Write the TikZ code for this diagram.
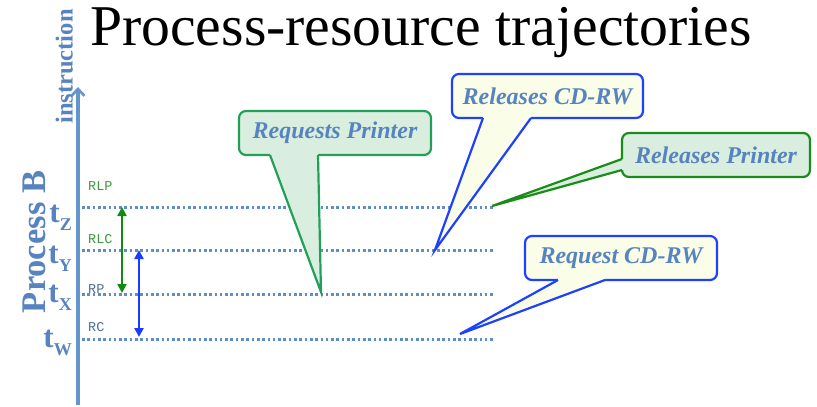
\documentclass[tikz,border=0pt]{standalone}
\usepackage{fontspec}
\setmainfont{Liberation Serif}
\newfontfamily\codefont{Liberation Mono}
\usetikzlibrary{arrows.meta}

\definecolor{axisblue}{HTML}{6396CC}
\definecolor{labelblue}{HTML}{5783BF}
\definecolor{dotblue}{HTML}{5E8EC6}
\definecolor{codegreen}{HTML}{3C9A3C}
\definecolor{codegray}{HTML}{4F6D90}
\definecolor{spangreen}{HTML}{108A10}
\definecolor{spanblue}{HTML}{1A3CFF}
\definecolor{tealborder}{HTML}{22A05A}
\definecolor{greenborder}{HTML}{1A8C1A}
\definecolor{blueborder}{HTML}{1E40FF}
\definecolor{greenfill}{HTML}{DAEEDF}
\definecolor{yellowfill}{HTML}{FAFDE8}

\tikzset{
  axisline/.style={line width=3.4pt, draw=axisblue, -{Straight Barb[length=7pt,width=13pt,line width=2.6pt]}},
  timeline/.style={line width=3pt, draw=dotblue, dash pattern=on 2.6pt off 2.7pt},
  tlabel/.style={anchor=base east, inner sep=0pt, text=labelblue, font=\bfseries\fontsize{31}{31}\selectfont},
  codelabel/.style={anchor=base west, inner sep=0pt, font=\codefont\fontsize{13.5}{14}\selectfont},
  span/.style={line width=2.8pt, {Triangle[length=9pt,width=9pt]}-{Triangle[length=9pt,width=9pt]}},
  callout/.style={rounded corners=7pt, line width=2.2pt, inner sep=0pt,
    text=labelblue, font=\bfseries\itshape\fontsize{24}{24}\selectfont},
  pointer/.style={line width=2.2pt, line join=miter},
  sidebar/.style={text=labelblue, rotate=90, anchor=base, inner sep=0pt},
}

\newcommand\tsub[1]{t\raisebox{-8pt}{\fontsize{18}{18}\selectfont #1}}

\begin{document}
\begin{tikzpicture}[x=1pt,y=-1pt]
\useasboundingbox (0,0) rectangle (817,407);

% heading
\node[anchor=base west, inner sep=0pt, font=\fontsize{57.7}{60}\selectfont] (title) at (90,45) {Process-resource trajectories};

% vertical axis of process B
\coordinate (axbot) at (78,405);
\coordinate (axtop) at (78,87);
\draw[axisline] (axbot) -- (axtop);
\node[sidebar, font=\bfseries\fontsize{24.5}{24}\selectfont] (instr) at (72.5,66.5) {instruction};
\node[sidebar, font=\bfseries\fontsize{34.5}{34}\selectfont] (procb) at (45.5,242) {Process B};

% time marks
\node[tlabel] (tz) at (72,222) {\tsub{Z}};
\node[tlabel] (ty) at (72,263) {\tsub{Y}};
\node[tlabel] (tx) at (72,302) {\tsub{X}};
\node[tlabel] (tw) at (72,347) {\tsub{W}};

\coordinate (zs) at (82,207);  \coordinate (ze) at (495,207);
\coordinate (ys) at (82,250);  \coordinate (ye) at (495,250);
\coordinate (xs) at (82,294);  \coordinate (xe) at (495,294);
\coordinate (ws) at (82,339);  \coordinate (we) at (495,339);
\draw[timeline] (zs) -- (ze);
\draw[timeline] (ys) -- (ye);
\draw[timeline] (xs) -- (xe);
\draw[timeline] (ws) -- (we);

\node[codelabel, text=codegreen] (rlp) at (88,190) {RLP};
\node[codelabel, text=codegreen] (rlc) at (88,243) {RLC};
\node[codelabel, text=codegray]  (rpl) at (88,293) {RP};
\node[codelabel, text=codegray]  (rcl) at (88,331) {RC};

% holding intervals
\coordinate (g1) at (122,207); \coordinate (g2) at (122,293);
\coordinate (b1) at (139,250); \coordinate (b2) at (139,337);
\draw[span, draw=spangreen, fill=spangreen] (g1) -- (g2);
\draw[span, draw=spanblue, fill=spanblue] (b1) -- (b2);

% callout: Requests Printer
\node[callout, draw=tealborder, fill=greenfill, minimum width=192pt, minimum height=44pt] (reqp) at (335,133) {Requests Printer};
\coordinate (reqpA) at (270,155); \coordinate (reqpB) at (318,155); \coordinate (reqpT) at (321,292);
\fill[greenfill] (reqpA) -- (reqpT) -- (reqpB) -- (318,150) -- (270,150) -- cycle;
\draw[pointer, draw=tealborder] (reqpA) -- (reqpT) -- (reqpB);

% callout: Releases CD-RW
\node[callout, draw=blueborder, fill=yellowfill, minimum width=191pt, minimum height=44pt] (relc) at (547.5,96) {Releases CD-RW};
\coordinate (relcA) at (483,118); \coordinate (relcB) at (531,118); \coordinate (relcT) at (435,250);
\fill[yellowfill] (relcA) -- (relcT) -- (relcB) -- (531,113) -- (483,113) -- cycle;
\draw[pointer, draw=blueborder] (relcA) -- (relcT) -- (relcB);

% callout: Releases Printer
\node[callout, draw=greenborder, fill=greenfill, minimum width=188pt, minimum height=44pt] (relp) at (716,155) {Releases Printer};
\coordinate (relpA) at (622,159); \coordinate (relpB) at (622,170); \coordinate (relpT) at (492,206);
\fill[greenfill] (relpA) -- (relpT) -- (relpB) -- (627,170) -- (627,159) -- cycle;
\draw[pointer, draw=greenborder] (relpA) -- (relpT) -- (relpB);

% callout: Request CD-RW
\node[callout, draw=blueborder, fill=yellowfill, minimum width=192pt, minimum height=44pt] (reqc) at (621,258) {Request CD-RW};
\coordinate (reqcA) at (558,280); \coordinate (reqcB) at (605,280); \coordinate (reqcT) at (460,334);
\fill[yellowfill] (reqcA) -- (reqcT) -- (reqcB) -- (605,275) -- (558,275) -- cycle;
\draw[pointer, draw=blueborder] (reqcA) -- (reqcT) -- (reqcB);
\end{tikzpicture}
\end{document}
